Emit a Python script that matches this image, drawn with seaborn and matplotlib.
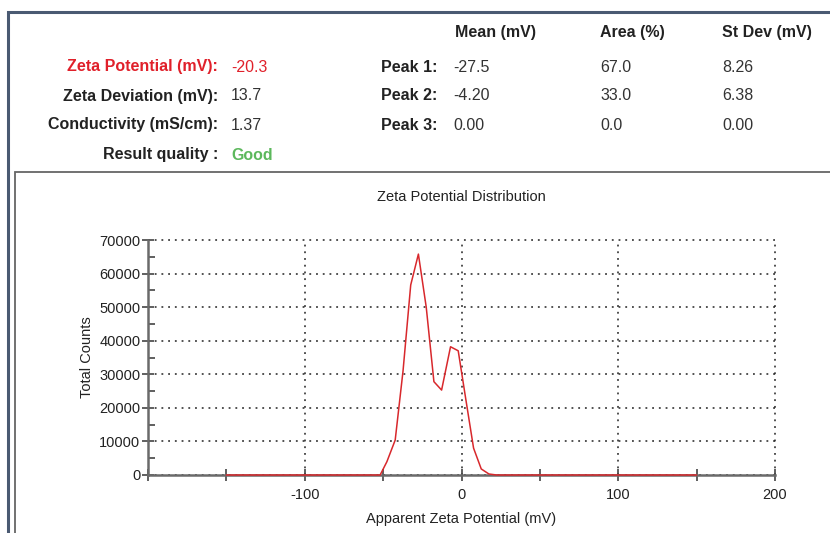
import matplotlib
matplotlib.use("Agg")
import matplotlib.pyplot as plt
import seaborn as sns
import pandas as pd
from matplotlib.patches import Rectangle
from matplotlib.ticker import MultipleLocator

# ---- data ----
zeta_mv = [-150, -51.9, -47.6, -42.3, -37.3, -32.4, -27.5, -22.5, -17.6, -12.7,
           -7.0, -2.1, 2.8, 7.7, 12.6, 17.5, 22.4, 150]
total_counts = [0, 0, 3960, 10400, 31000, 56600, 65800, 50000, 27800, 25300,
                38200, 37000, 22400, 8000, 1800, 300, 0, 0]

summary_labels = ["Zeta Potential (mV):", "Zeta Deviation (mV):",
                  "Conductivity (mS/cm):", "Result quality :"]
summary_values = ["-20.3", "13.7", "1.37", "Good"]
peak_labels = ["Peak 1:", "Peak 2:", "Peak 3:"]
peak_headers = ["Mean (mV)", "Area (%)", "St Dev (mV)"]
peak_mean = ["-27.5", "-4.20", "0.00"]
peak_area = ["67.0", "33.0", "0.0"]
peak_sd = ["8.26", "6.38", "0.00"]
x_ticks = [-100, 0, 100, 200]
y_ticks = [0, 10000, 20000, 30000, 40000, 50000, 60000, 70000]

sns.set_theme(style="white")
plt.rcParams["font.family"] = ["Liberation Sans", "DejaVu Sans"]

W, H = 830, 533
fig = plt.figure(figsize=(W / 100, H / 100), dpi=100)
fig.patch.set_facecolor("white")

def fx(px):
    return px / W

def fy(py):
    return 1 - py / H

# frames
fig.add_artist(Rectangle((fx(8), fy(540)), fx(840) - fx(8), fy(12) - fy(540),
                         transform=fig.transFigure, fill=False,
                         edgecolor="#4a5a72", linewidth=2.2, clip_on=False))
fig.add_artist(Rectangle((fx(15), fy(540)), fx(840) - fx(15), fy(172) - fy(540),
                         transform=fig.transFigure, fill=False,
                         edgecolor="#666666", linewidth=1.3, clip_on=False))

fs = 11.5
dark = "#222222"
red = "#e0202a"
green = "#5cb85c"

# header row
for txt, xpx in zip(peak_headers, [455, 600, 722]):
    fig.text(fx(xpx), fy(32), txt, ha="left", va="center", fontsize=fs,
             fontweight="bold", color=dark)

rows_y = [67, 96, 125, 155]
for i, (lab, val) in enumerate(zip(summary_labels, summary_values)):
    col = red if i == 0 else dark
    vcol = red if i == 0 else (green if i == 3 else "#333333")
    fig.text(fx(218), fy(rows_y[i]), lab, ha="right", va="center", fontsize=fs,
             fontweight="bold", color=col)
    fig.text(fx(231), fy(rows_y[i]), val, ha="left", va="center", fontsize=fs,
             fontweight="bold" if i == 3 else "normal", color=vcol)

for i, lab in enumerate(peak_labels):
    fig.text(fx(437), fy(rows_y[i]), lab, ha="right", va="center", fontsize=fs,
             fontweight="bold", color=dark)
    fig.text(fx(453), fy(rows_y[i]), peak_mean[i], ha="left", va="center",
             fontsize=fs, color="#333333")
    fig.text(fx(600), fy(rows_y[i]), peak_area[i], ha="left", va="center",
             fontsize=fs, color="#333333")
    fig.text(fx(722), fy(rows_y[i]), peak_sd[i], ha="left", va="center",
             fontsize=fs, color="#333333")

# chart axes
ax = fig.add_axes([fx(148), fy(475), fx(775) - fx(148), fy(240) - fy(475)])
df = pd.DataFrame({"zeta": zeta_mv, "counts": total_counts})
sns.lineplot(data=df, x="zeta", y="counts", ax=ax, color="#d8282c",
             linewidth=1.1, zorder=5, clip_on=False)

ax.set_xlim(-200, 200)
ax.set_ylim(0, 70000)
ax.set_xticks(x_ticks)
ax.set_yticks(y_ticks)
ax.set_xticklabels([str(t) for t in x_ticks])
ax.set_yticklabels([str(t) for t in y_ticks])
ax.xaxis.set_minor_locator(MultipleLocator(50))
ax.yaxis.set_minor_locator(MultipleLocator(5000))

for s in ["top", "right"]:
    ax.spines[s].set_visible(False)
for s in ["left", "bottom"]:
    ax.spines[s].set_color("#6a6a6a")
    ax.spines[s].set_linewidth(1.8)
    ax.spines[s].set_zorder(2)

ax.tick_params(axis="both", which="major", direction="inout", length=9,
               width=1.2, color="#444444", labelsize=10.5, labelcolor=dark,
               bottom=True, left=True)
ax.tick_params(axis="x", which="major", pad=5)
ax.tick_params(axis="y", which="major", pad=1)
ax.tick_params(axis="both", which="minor", direction="inout", length=8,
               width=1.2, color="#444444", bottom=True, left=True)
ax.tick_params(axis="y", which="minor", direction="in", length=5)

ax.grid(True, which="major", color="#222222", linestyle=(0, (1.2, 3.2)),
        linewidth=1.1)
ax.set_axisbelow(True)
for gl in ax.get_xgridlines() + ax.get_ygridlines():
    gl.set_clip_on(False)

ax.set_title("Zeta Potential Distribution", fontsize=10.5, color=dark, pad=28)
ax.set_xlabel("Apparent Zeta Potential (mV)", fontsize=10.5, color=dark,
              labelpad=7)
ax.set_ylabel("Total Counts", fontsize=10.5, color=dark, labelpad=4)

fig.savefig("out.png", dpi=100)
